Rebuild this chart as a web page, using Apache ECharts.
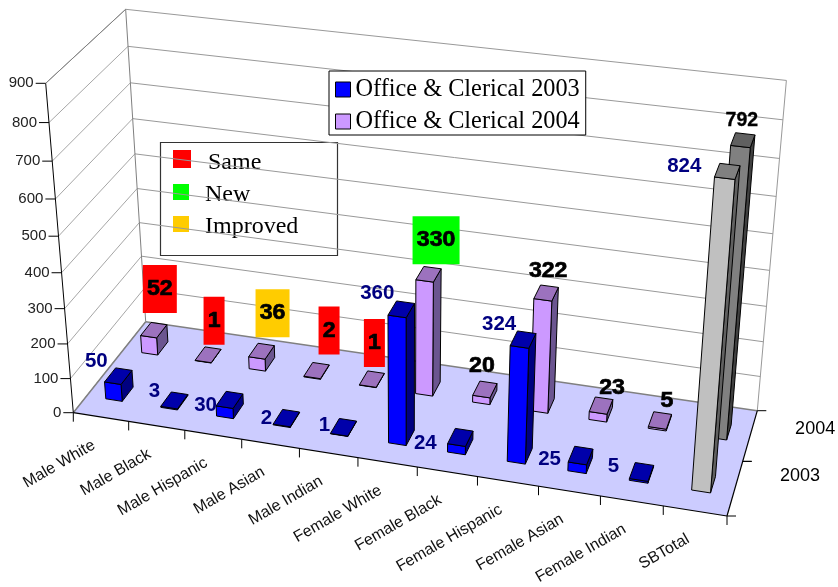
<!DOCTYPE html>
<html>
<head>
<meta charset="utf-8">
<style>html,body{margin:0;padding:0;background:#fff}#c{width:838px;height:587px}</style>
<script src="https://cdn.jsdelivr.net/npm/echarts@6/dist/echarts.min.js"></script>
</head>
<body>
<div id="c"></div>
<script>
// ---- data ----
const categories = ['Male White','Male Black','Male Hispanic','Male Asian','Male Indian','Female White','Female Black','Female Hispanic','Female Asian','Female Indian','SBTotal'];
const years = ['2003','2004'];
const values2003 = [50,3,30,2,1,360,24,324,25,5,824];
const values2004 = [52,1,36,2,1,330,20,322,23,5,792];
const status2004 = ['Same','Same','Improved','Same','Same','New','','','','',''];
const yTicks = [0,100,200,300,400,500,600,700,800,900];
const statusNames = ['Same','New','Improved'];

// ---- layout & style ----
const statusColor = {Same:'#FF0000',New:'#00FF00',Improved:'#FFCC00'};
const corners = {A:[73.3,412.7],B:[727,516],C:[757.3,410.7],D:[145.7,321.7],E:[45.7,83.3],H:[125,9.3]};
const barFrac = 0.30;
const labelOffset2003 = [[-22,-15],[-20,-9],[-24,5],[-20,0],[-19,-2],[-24,-16],[-35,6],[-24,-15],[-31,4],[-28,-6],[-43,-5]];
const labelOffset2004 = [[6,-41],[6,-34],[11,-38],[12.5,-40],[2.5,-36],[7.5,-34],[-3,-23],[2,-22],[11,-18],[7,-20],[-1,-20]];
const yearLabelOffset = [[65,-12],[65,-7]];
const blueFaces = ['#0000FF','#0000AA','#000080'];
const purpleFaces = ['#CC99FF','#9C72BE','#6B5590'];
const lightGray = ['#C0C0C0','#808080','#606060'];
const darkGray = ['#808080','#606060','#404040'];

// ---- projective map (u along categories, v along depth, w up) ----
const {A,B,C,D,E,H} = corners;
const sx=A[0]-B[0]+C[0]-D[0], sy=A[1]-B[1]+C[1]-D[1];
const dx1=B[0]-C[0], dx2=D[0]-C[0], dy1=B[1]-C[1], dy2=D[1]-C[1];
const den=dx1*dy2-dx2*dy1;
const pg=(sx*dy2-dx2*sy)/den, ph=(dx1*sy-sx*dy1)/den;
const pa=B[0]-A[0]+pg*B[0], pb=D[0]-A[0]+ph*D[0], pc=A[0];
const pd=B[1]-A[1]+pg*B[1], pe=D[1]-A[1]+ph*D[1], pf=A[1];
const pi=(H[1]*(ph+1)-pe-E[1])/(E[1]-H[1]);
const pm=E[0]*(1+pi)-pc, pn=E[1]*(1+pi)-pf;
function proj(u,v,w){
  const q=pg*u+ph*v+pi*w+1;
  return [(pa*u+pb*v+pm*w+pc)/q,(pd*u+pe*v+pn*w+pf)/q];
}
function toUW(params,api,cat,val){
  const p=api.coord([cat,val]);
  const g=params.coordSys;
  return [(p[0]-g.x)/g.width,(g.y+g.height-p[1])/g.height];
}
function poly(points,fill,stroke,lw){
  return {type:'polygon',shape:{points},style:{fill:fill,stroke:stroke||'none',lineWidth:lw==null?1:lw,lineJoin:'round'}};
}
function line(p,q,stroke,lw){
  return {type:'line',shape:{x1:p[0],y1:p[1],x2:q[0],y2:q[1]},style:{stroke,lineWidth:lw||1}};
}
function text(x,y,t,font,fill,extra,scaleX){
  return {type:'text',x,y,scaleX:scaleX||1,style:Object.assign({text:t,font,fill,align:'center',verticalAlign:'middle'},extra||{})};
}
const axisFont='15px "Liberation Sans", Arial, sans-serif';
const catFont='16px "Liberation Sans", Arial, sans-serif';

function renderWallTick(params,api){
  const val=api.value(1);
  const w=toUW(params,api,0,val)[1];
  const f=proj(0,0,w), b=proj(0,1,w), r=proj(1,1,w);
  const kids=[line(f,[f[0]-10,f[1]],'#000')];
  kids.push(line(f,b,val===0?'#808080':'#A6A6A6'));
  if(val>0) kids.push(line(b,r,'#999999'));
  kids.push({type:'text',x:f[0]-12,y:f[1],style:{text:String(val),font:axisFont,fill:'#222',align:'right',verticalAlign:'middle'}});
  return {type:'group',children:kids};
}
function renderFloor(){
  const o=proj(0,0,0),x=proj(1,0,0),xz=proj(1,1,0),z=proj(0,1,0);
  return {type:'group',children:[
    poly([o,x,xz,z],'#CCCCFF'),
    line(z,xz,'#808080',1.5),
    line(o,z,'#808080',1.5),
    line(proj(0,1,0),proj(0,1,1),'#808080'),
    line(proj(1,1,0),proj(1,1,1),'#999999'),
    line(proj(0,0,1),proj(0,1,1),'#808080'),
    line(proj(0,0,0),proj(0,0,1),'#000'),
    line(o,x,'#000',1.2),
    line(x,xz,'#000',1.2)
  ]};
}
function renderCat(params,api){
  const i=api.value(0);
  const g=params.coordSys;
  const band=api.size([1,0])[0]/g.width;
  const c=api.coord([i,0]);
  const uc=(c[0]-g.x)/g.width;
  const kids=[];
  const u0=uc-band/2, t0=proj(u0,0,0);
  kids.push(line(t0,[t0[0],t0[1]+9],'#000'));
  if(i===categories.length-1){const t1=proj(uc+band/2,0,0);kids.push(line(t1,[t1[0],t1[1]+9],'#000'));}
  const m=proj(uc,0,0);
  kids.push({type:'text',x:m[0]-7,y:m[1]+27,rotation:Math.PI/6,
    style:{text:categories[i],font:catFont,fill:'#111',align:'right',verticalAlign:'middle'}});
  return {type:'group',children:kids};
}
function renderYear(params,api){
  const r=api.value(0);
  const vc=(r+0.5)/years.length;
  const kids=[];
  [r/years.length,(r+1)/years.length].forEach(v=>{
    const p=proj(1,v,0);kids.push(line(p,[p[0]+9,p[1]],'#000'));
  });
  const p=proj(1,vc,0);
  kids.push(text(p[0]+yearLabelOffset[r][0],p[1]+yearLabelOffset[r][1],years[r],'18px "Liberation Sans", Arial, sans-serif','#000'));
  return {type:'group',children:kids};
}
function barRenderer(row,faces){
  return function(params,api){
    const i=api.value(0), val=api.value(1);
    const g=params.coordSys;
    const band=api.size([1,0])[0]/g.width;
    const c=api.coord([i,0]);
    const uc=(c[0]-g.x)/g.width;
    const w=toUW(params,api,i,val)[1];
    const vc=(row+0.5)/years.length, dv=barFrac/years.length/2, du=band*barFrac/2;
    const f=categories[i]==='SBTotal'?(row===0?lightGray:darkGray):faces;
    const u0=uc-du,u1=uc+du,v0=vc-dv,v1=vc+dv;
    return {type:'group',children:[
      poly([proj(u1,v0,0),proj(u1,v1,0),proj(u1,v1,w),proj(u1,v0,w)],f[2],'#000'),
      poly([proj(u0,v0,0),proj(u1,v0,0),proj(u1,v0,w),proj(u0,v0,w)],f[0],'#000'),
      poly([proj(u0,v0,w),proj(u1,v0,w),proj(u1,v1,w),proj(u0,v1,w)],f[1],'#000')
    ]};
  };
}
function labelRenderer(row,offsets){
  return function(params,api){
    const i=api.value(0), val=api.value(1);
    const g=params.coordSys;
    const c=api.coord([i,0]);
    const uc=(c[0]-g.x)/g.width;
    const w=toUW(params,api,i,val)[1];
    const t=proj(uc,(row+0.5)/years.length,w);
    const x=t[0]+offsets[i][0], y=t[1]+offsets[i][1];
    const kids=[];
    if(row===0){
      kids.push(text(x,y,String(val),'bold 20.5px "Liberation Sans", Arial, sans-serif','#000080'));
    }else{
      const st=status2004[i];
      if(st){
        const rw=String(val).length===1?21:String(val).length===2?34:47;
        kids.push({type:'rect',shape:{x:x-rw/2,y:y-24,width:rw,height:48},style:{fill:statusColor[st]}});
      }
      const big=categories[i]!=='SBTotal';
      kids.push(text(x,y,String(val),(big?'bold 22px':'bold 19.5px')+' "Liberation Sans", Arial, sans-serif','#000',{stroke:'#000',lineWidth:big?0.7:0.3},big?1.05:1));
    }
    return {type:'group',children:kids};
  };
}

const catData=categories.map((_,i)=>[i,0]);
const serifFont='"Liberation Serif","Times New Roman",serif';

const option={
  animation:false,
  backgroundColor:'#fff',
  grid:{left:0,right:0,top:0,bottom:0,containLabel:false},
  xAxis:{type:'category',data:categories,show:false},
  yAxis:{type:'value',min:0,max:900,interval:100,show:false},
  legend:{
    orient:'vertical',left:329,top:71,
    padding:[6,6,1,6],itemGap:7,itemWidth:15,itemHeight:15,itemTextGap:5,
    backgroundColor:'#fff',borderColor:'#000',borderWidth:1,z:20,selectedMode:false,
    textStyle:{fontFamily:'Liberation Serif',fontSize:24.3,color:'#000',lineHeight:25},
    data:[
      {name:'Office & Clerical 2003',icon:'rect',itemStyle:{color:blueFaces[0],borderColor:'#000',borderWidth:1}},
      {name:'Office & Clerical 2004',icon:'rect',itemStyle:{color:purpleFaces[0],borderColor:'#000',borderWidth:1}}
    ]
  },
  graphic:[{type:'group',z:100,children:[
    {type:'rect',shape:{x:160.5,y:142.5,width:177,height:113},style:{fill:'#fff',stroke:'#333',lineWidth:1.2}},
    {type:'rect',shape:{x:173,y:150,width:18,height:18},style:{fill:statusColor.Same}},
    {type:'rect',shape:{x:173,y:184,width:16,height:16},style:{fill:statusColor.New}},
    {type:'rect',shape:{x:173,y:216,width:16,height:16},style:{fill:statusColor.Improved}},
    {type:'text',x:208,y:163,style:{text:statusNames[0],font:'24px '+serifFont,fill:'#000',verticalAlign:'middle'}},
    {type:'text',x:205,y:195,style:{text:statusNames[1],font:'24px '+serifFont,fill:'#000',verticalAlign:'middle'}},
    {type:'text',x:205,y:227,style:{text:statusNames[2],font:'24px '+serifFont,fill:'#000',verticalAlign:'middle'}}
  ]}],
  series:[
    {type:'custom',name:'walls',z:1,silent:true,data:yTicks.map(t=>[0,t]),renderItem:renderWallTick,encode:{x:0,y:1}},
    {type:'custom',name:'floor',z:2,silent:true,data:[[0,0]],renderItem:renderFloor,encode:{x:0,y:1}},
    {type:'custom',name:'cats',z:2,silent:true,data:catData,renderItem:renderCat,encode:{x:0,y:1}},
    {type:'custom',name:'yrs',z:2,silent:true,data:years.map((_,i)=>[i,0]),renderItem:renderYear,encode:{x:0,y:1}},
    {type:'custom',name:'Office & Clerical 2004',z:3,silent:true,data:values2004.map((v,i)=>[i,v]),renderItem:barRenderer(1,purpleFaces),encode:{x:0,y:1},itemStyle:{color:purpleFaces[0]}},
    {type:'custom',name:'Office & Clerical 2003',z:4,silent:true,data:values2003.map((v,i)=>[i,v]),renderItem:barRenderer(0,blueFaces),encode:{x:0,y:1},itemStyle:{color:blueFaces[0]}},
    {type:'custom',name:'labels2004',z:5,silent:true,data:values2004.map((v,i)=>[i,v]),renderItem:labelRenderer(1,labelOffset2004),encode:{x:0,y:1}},
    {type:'custom',name:'labels2003',z:5,silent:true,data:values2003.map((v,i)=>[i,v]),renderItem:labelRenderer(0,labelOffset2003),encode:{x:0,y:1}}
  ]
};
echarts.init(document.getElementById('c'),null,{renderer:'canvas'}).setOption(option);
</script>
</body>
</html>
